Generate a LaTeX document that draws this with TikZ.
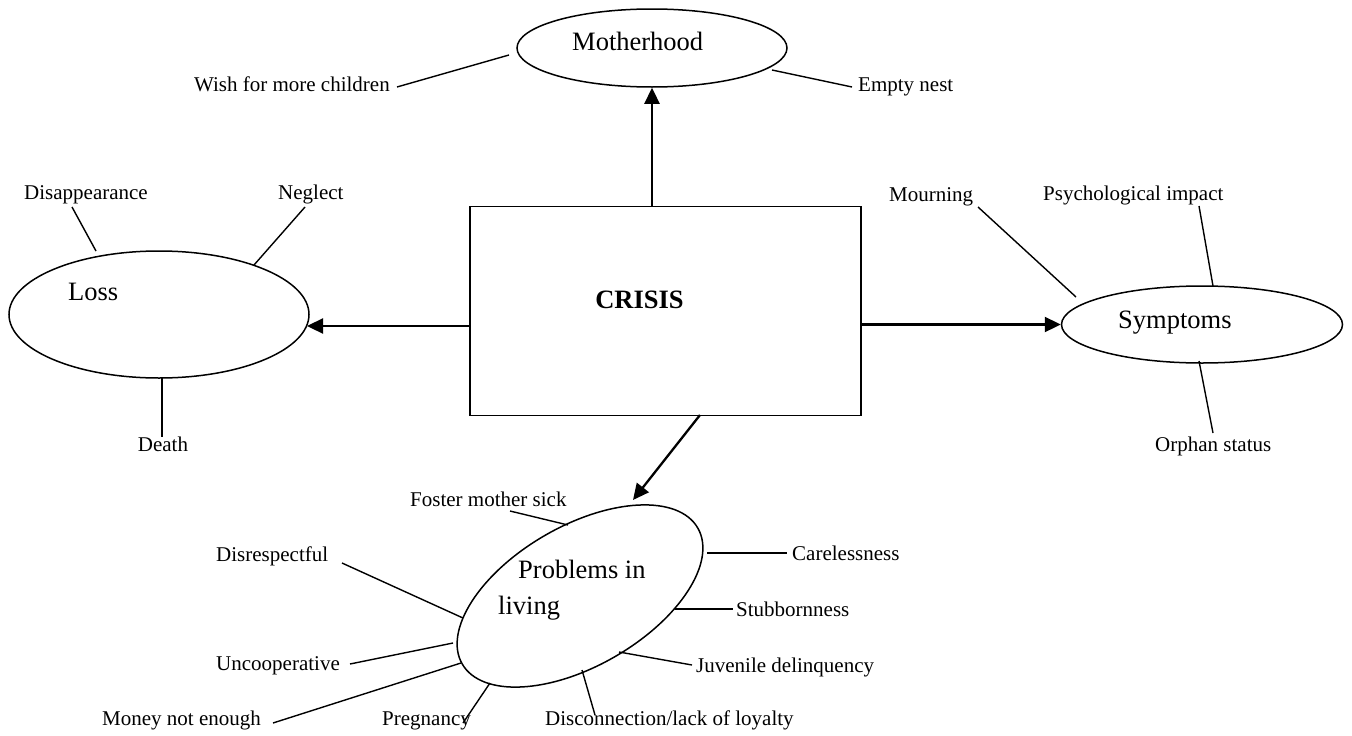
\documentclass[tikz,border=0pt]{standalone}
\usepackage{fontspec}
\setmainfont{Liberation Serif}
\usetikzlibrary{arrows.meta,shapes.geometric,calc}
\begin{document}
\begin{tikzpicture}[x=1pt,y=-1pt,
 sm/.style={inner sep=0pt, font=\fontsize{21}{25}\selectfont, text height=14.3pt, text depth=4.6pt},
 lg/.style={inner sep=0pt, font=\fontsize{26.5}{30}\selectfont, text height=18pt, text depth=5.8pt},
 oval/.style={draw, ellipse, line width=1.5pt, inner sep=0pt},
 arr/.style={line width=2.3pt, -{Triangle[length=16pt,width=15pt]}},
 tie/.style={line width=1.4pt},
]
\useasboundingbox (0,0) rectangle (1352,736);

% main box
\node[draw, line width=1.8pt, minimum width=391pt, minimum height=209pt, inner sep=0pt] (crisis) at (665.5,311) {};
\node[lg, font=\fontsize{26.5}{30}\selectfont\bfseries] (crisisT) at (639.5,302) {CRISIS};

% ellipses
\node[oval, minimum width=270pt, minimum height=78pt] (mother) at (652,48) {};
\node[oval, minimum width=300pt, minimum height=127pt] (loss) at (159,314.5) {};
\node[oval, minimum width=281pt, minimum height=77pt] (symp) at (1202,324.5) {};
\node[oval, minimum width=272pt, minimum height=140pt, rotate=30] (prob) at (580,596) {};

% ellipse texts
\node[lg, anchor=west] (motherT) at (572,44) {Motherhood};
\node[lg, anchor=west] (lossT) at (68,294) {Loss};
\node[lg, anchor=west] (sympT) at (1118,322) {Symptoms};
\node[lg, anchor=west] (probT1) at (518,572) {Problems in};
\node[lg, anchor=west] (probT2) at (498,608) {living};

% arrows
\draw[arr] (mother.south |- crisis.north) -- (mother.south);
\coordinate (lossIn) at (307,326);
\draw[arr] (crisis.west |- lossIn) -- (lossIn);
\draw[arr] (crisis.east |- symp.west) -- (symp.west);
\coordinate (crisisOut) at (700,415);
\coordinate (probIn) at (633,500);
\draw[arr] (crisisOut) -- (probIn);

% labels
\node[sm, anchor=east] (wish) at (390,87) {Wish for more children};
\node[sm, anchor=west] (empty) at (858,87) {Empty nest};
\node[sm, anchor=west] (disap) at (24,195) {Disappearance};
\node[sm, anchor=west] (negl) at (278,195) {Neglect};
\node[sm] (death) at (163,447) {Death};
\node[sm, anchor=west] (mourn) at (889,197) {Mourning};
\node[sm, anchor=west] (psych) at (1043,196) {Psychological impact};
\node[sm, anchor=west] (orph) at (1155,447) {Orphan status};
\node[sm, anchor=west] (foster) at (410,502) {Foster mother sick};
\node[sm, anchor=west] (disresp) at (216,557) {Disrespectful};
\node[sm, anchor=west] (uncoop) at (216,666) {Uncooperative};
\node[sm, anchor=west] (money) at (102,721) {Money not enough};
\node[sm, anchor=west] (preg) at (382,721) {Pregnancy};
\node[sm, anchor=west] (care) at (792,556) {Carelessness};
\node[sm, anchor=west] (stub) at (736,612) {Stubbornness};
\node[sm, anchor=west] (juv) at (696,668) {Juvenile delinquency};
\node[sm, anchor=west] (disc) at (545,721) {Disconnection/lack of loyalty};

% label ties
\foreach \n/\ax/\ay/\bx/\by in {
  wishL/397/87/509/55, emptyL/772/70/852/87,
  disapL/72/207/96/251, neglL/305/207/254/265, deathL/162/378/162/437,
  mournL/978/207/1076/297, psychL/1199/206/1213/286, orphL/1199/361/1213/433,
  fosterL/510/511/568/525, disrespL/342/563/463/618, uncoopL/350/664/453/643,
  moneyL/273/723/461/663, pregL/463/723/490/683, careL/707/553/787/553,
  stubL/675/609/733/609, juvL/619/652/692/665, discL/582/670/595/715}
{
  \coordinate (\n-a) at (\ax,\ay);
  \coordinate (\n-b) at (\bx,\by);
  \draw[tie] (\n-a) -- (\n-b);
}
\end{tikzpicture}
\end{document}
